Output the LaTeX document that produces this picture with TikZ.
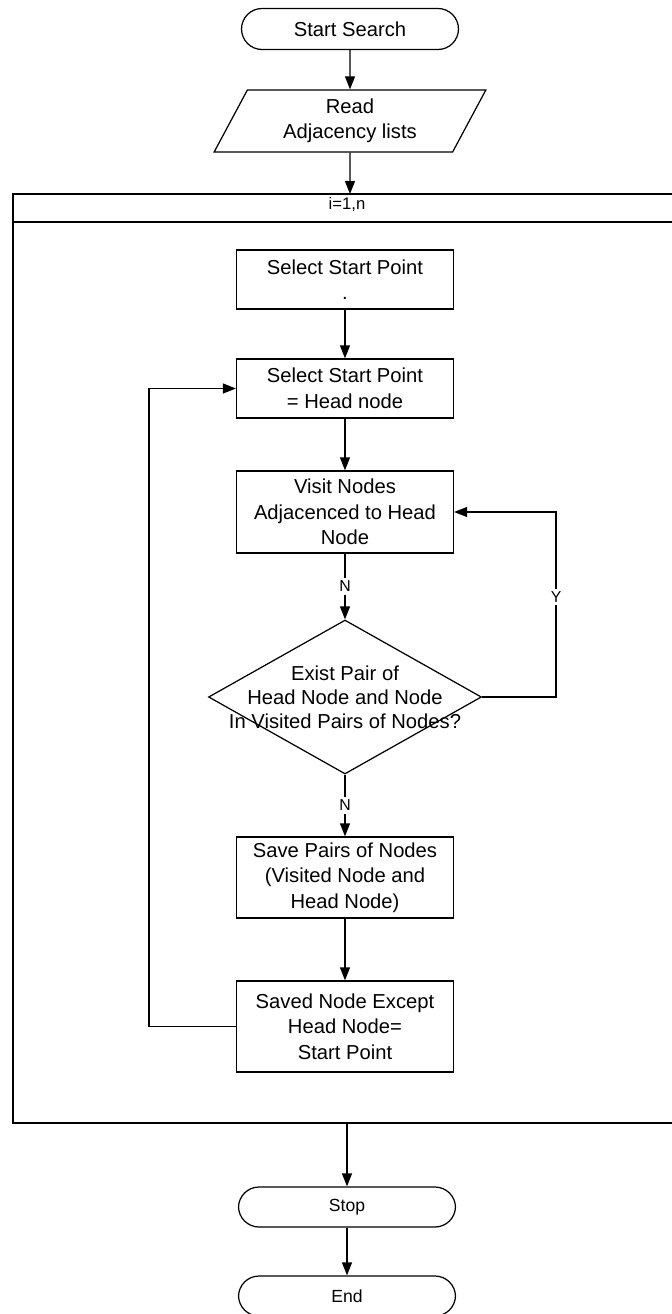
\documentclass[tikz,border=0pt]{standalone}
\usepackage{fontspec}
\setmainfont{Liberation Sans}
\usetikzlibrary{shapes.geometric,arrows.meta}

\begin{document}
\begin{tikzpicture}[x=0.02cm,y=-0.02cm, line width=0.7pt,
    >={Triangle[length=2.6mm,width=2mm]},
    txt/.style={font=\fontsize{11.5}{14.5}\selectfont, align=center},
    box/.style={txt, draw, minimum width=4.34cm, inner sep=2pt},
    term/.style={draw, rounded corners=0.41cm, minimum width=4.34cm, minimum height=0.82cm, align=center},
    lbl/.style={fill=white, inner sep=1.5pt, font=\fontsize{9}{10}\selectfont}]
    \useasboundingbox (0,0) rectangle (672,1314);
    \node[term, txt] (start) at (350,29) {Start Search};
    \node[trapezium, draw, txt, trapezium left angle=64, trapezium right angle=116,
          trapezium stretches, minimum width=5.46cm, minimum height=1.24cm, inner sep=0pt] (read) at (350,121) {Read\\Adjacency lists};
    \coordinate (looptop) at (350,194);
    \coordinate (loopend) at (347,1123);
    \draw (672,194) -- (13,194) -- (13,1123) -- (672,1123);
    \draw (13,222) -- (672,222);
    \node[font=\fontsize{9.5}{10}\selectfont] (range) at (347,205) {i=1,n};
    \node[box, minimum height=1.18cm] (select) at (345,279.5) {Select Start Point\\.};
    \node[box, minimum height=1.18cm] (head) at (345,388.5) {Select Start Point\\= Head node};
    \node[box, minimum height=1.64cm] (visit) at (345,512) {Visit Nodes\\Adjacenced to Head\\Node};
    \node[diamond, draw, minimum width=5.46cm, minimum height=3.08cm, inner sep=0pt] (check) at (345,697) {};
    \node[txt, font=\fontsize{11.5}{13.6}\selectfont] (question) at (check) {Exist Pair of\\Head Node and Node\\In Visited Pairs of Nodes?};
    \node[box, minimum height=1.62cm] (save) at (345,877.5) {Save Pairs of Nodes\\(Visited Node and\\Head Node)};
    \node[box, minimum height=1.82cm] (saved) at (345,1026.5) {Saved Node Except\\Head Node=\\Start Point};
    \node[term, font=\fontsize{10}{12}\selectfont, minimum height=0.8cm] (stop) at (347,1207) {Stop};
    \node[term, font=\fontsize{10}{12}\selectfont, minimum height=0.8cm] (end) at (347,1296) {End};
    \draw[->] (start) -- (read);
    \draw[->] (read) -- (looptop);
    \draw[->] (select) -- (head);
    \draw[->] (head) -- (visit);
    \draw[->] (visit) -- node[lbl]{N} (check);
    \draw[->] (check) -- node[lbl]{N} (save);
    \draw[->] (save) -- (saved);
    \draw[->] (check.east) -- ++(74,0) |- node[lbl, pos=0.27]{Y} (visit.east);
    \draw[->] (saved.west) -- ++(-87,0) |- (head.west);
    \draw[->] (loopend) -- (stop);
    \draw[->] (stop) -- (end);
\end{tikzpicture}
\end{document}
